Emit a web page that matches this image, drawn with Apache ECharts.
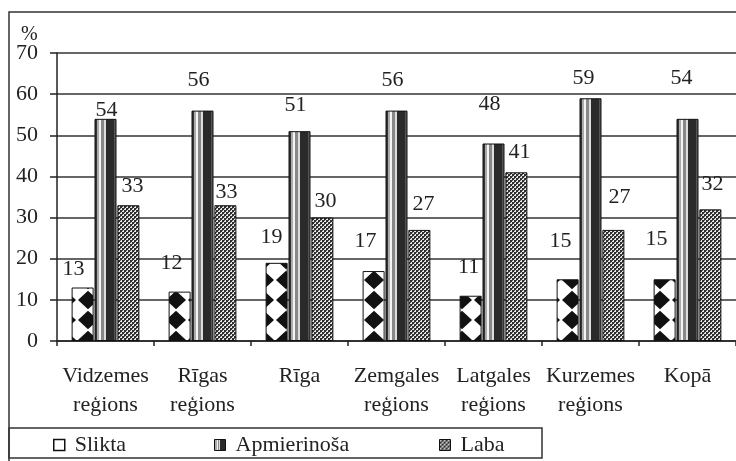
<!DOCTYPE html>
<html>
<head>
<meta charset="utf-8">
<script src="https://cdn.jsdelivr.net/npm/echarts@6/dist/echarts.min.js"></script>
<style>html,body{margin:0;padding:0;background:#fff}#c{width:736px;height:461px}</style>
</head>
<body>
<div id="c"></div>
<script>
// ---- data ----
var categories = ['Vidzemes\nreģions', 'Rīgas\nreģions', 'Rīga', 'Zemgales\nreģions', 'Latgales\nreģions', 'Kurzemes\nreģions', 'Kopā'];
var seriesNames = ['Slikta', 'Apmierinoša', 'Laba'];
var slikta = [13, 12, 19, 17, 11, 15, 15];
var apmierinosa = [54, 56, 51, 56, 48, 59, 54];
var laba = [33, 33, 30, 27, 41, 27, 32];
var yTicks = { min: 0, max: 70, interval: 10 };

// ---- label placement (style, as in the original: hand-placed labels) ----
var sliktaLabelOffsets = [[-9, -7], [-8, -17], [-5, -15], [-8, -19], [-2, -18], [-7, -27], [-8, -29]];
var apmLabelOffsets = [[1, 2], [-4, -19], [-4, -15], [-4, -19], [-4, -28], [-7, -9], [-6, -30]];
var labaLabelOffsets = [[4, -8], [1, -2], [3, -5], [4, -15], [3, -9], [6, -22], [2, -14]];

var FONT = '"Liberation Serif", "DejaVu Serif", serif';

function diamondPattern() {
  var w = 22, h = 20;
  var c = document.createElement('canvas');
  c.width = w; c.height = h;
  var g = c.getContext('2d');
  g.fillStyle = '#fff'; g.fillRect(0, 0, w, h);
  g.fillStyle = '#111';
  var hw = 10, hh = 9.3;
  [[0, 0], [w, 0], [0, h], [w, h]].forEach(function (p) {
    g.beginPath();
    g.moveTo(p[0] - hw, p[1]);
    g.lineTo(p[0], p[1] - hh);
    g.lineTo(p[0] + hw, p[1]);
    g.lineTo(p[0], p[1] + hh);
    g.closePath();
    g.fill();
  });
  return c;
}
function dotPattern() {
  var c = document.createElement('canvas');
  c.width = 4; c.height = 4;
  var g = c.getContext('2d');
  g.fillStyle = '#2e2e2e'; g.fillRect(0, 0, 4, 4);
  g.fillStyle = '#e8e8e8';
  g.fillRect(0, 0, 2, 2);
  g.fillRect(2, 2, 2, 2);
  g.fillStyle = '#555';
  g.fillRect(0, 0, 1, 1);
  g.fillRect(2, 2, 1, 1);
  return c;
}

var sliktaColor = { image: diamondPattern(), repeat: 'repeat' };
var labaColor = { image: dotPattern(), repeat: 'repeat' };
var apmColor = {
  type: 'linear', x: 0, y: 0, x2: 1, y2: 0,
  colorStops: [
    { offset: 0, color: '#333' }, { offset: 0.1, color: '#333' },
    { offset: 0.1, color: '#aaa' }, { offset: 0.22, color: '#aaa' },
    { offset: 0.22, color: '#f4f4f4' }, { offset: 0.3, color: '#f4f4f4' },
    { offset: 0.3, color: '#888' }, { offset: 0.45, color: '#888' },
    { offset: 0.45, color: '#ddd' }, { offset: 0.52, color: '#ddd' },
    { offset: 0.52, color: '#2a2a2a' }, { offset: 0.9, color: '#2a2a2a' },
    { offset: 0.9, color: '#555' }, { offset: 1, color: '#555' }
  ]
};

function withOffsets(vals, offs) {
  return vals.map(function (v, i) { return { value: v, label: { offset: offs[i] } }; });
}

var labelStyle = {
  show: true, position: 'top', distance: 0,
  fontFamily: FONT, fontSize: 22, color: '#222'
};

var chart = echarts.init(document.getElementById('c'), null, { renderer: 'canvas' });
var legendBase = {
  top: 434, padding: 0, itemWidth: 11, itemHeight: 11, icon: 'rect', itemGap: 10,
  textStyle: { fontFamily: FONT, fontSize: 22, color: '#222', padding: [0, 0, 0, 5] }, selectedMode: false
};
chart.setOption({
  animation: false,
  backgroundColor: '#fff',
  grid: { left: 57, top: 53, width: 686, height: 288, containLabel: false },
  legend: [
    Object.assign({}, legendBase, { left: 53, data: [{ name: 'Slikta', itemStyle: { color: '#fff', borderColor: '#111', borderWidth: 1.5 } }] }),
    Object.assign({}, legendBase, { left: 214, data: [{ name: 'Apmierinoša', itemStyle: { borderColor: '#111', borderWidth: 1 } }] }),
    Object.assign({}, legendBase, { left: 439, data: [{ name: 'Laba', itemStyle: { borderColor: '#111', borderWidth: 1 } }] })
  ],
  xAxis: {
    type: 'category', data: categories,
    axisLine: { lineStyle: { color: '#222', width: 1.5 } },
    axisTick: { show: true, length: 5, lineStyle: { color: '#222', width: 1.5 } },
    axisLabel: { fontFamily: FONT, fontSize: 22, color: '#222', margin: 21, lineHeight: 29, interval: 0 }
  },
  yAxis: {
    type: 'value', min: yTicks.min, max: yTicks.max, interval: yTicks.interval,
    axisLine: { show: true, lineStyle: { color: '#222', width: 1.5 } },
    axisTick: { show: true, length: 7, lineStyle: { color: '#222', width: 1.5 } },
    axisLabel: { fontFamily: FONT, fontSize: 22, color: '#222', margin: 19 },
    splitLine: { show: true, lineStyle: { color: '#333', width: 1.5 } }
  },
  series: [
    { name: seriesNames[0], type: 'bar', barWidth: 22, barGap: '4%', data: withOffsets(slikta, sliktaLabelOffsets),
      itemStyle: { color: sliktaColor, borderColor: '#111', borderWidth: 1 }, label: labelStyle },
    { name: seriesNames[1], type: 'bar', barWidth: 22, barGap: '4%', data: withOffsets(apmierinosa, apmLabelOffsets),
      itemStyle: { color: apmColor, borderColor: '#111', borderWidth: 1 }, label: labelStyle },
    { name: seriesNames[2], type: 'bar', barWidth: 22, barGap: '4%', data: withOffsets(laba, labaLabelOffsets),
      itemStyle: { color: labaColor, borderColor: '#111', borderWidth: 1 }, label: labelStyle }
  ],
  graphic: [
    { type: 'rect', shape: { x: 9, y: 12, width: 800, height: 500 }, style: { fill: 'none', stroke: '#333', lineWidth: 1.5 }, silent: true, z: -1 },
    { type: 'rect', shape: { x: 9, y: 428, width: 533, height: 30 }, style: { fill: 'none', stroke: '#333', lineWidth: 1.5 }, silent: true, z: -1 },
    { type: 'text', x: 21, y: 25, style: { text: '%', font: '20px ' + FONT, fill: '#222' }, silent: true }
  ]
});
</script>
</body>
</html>
